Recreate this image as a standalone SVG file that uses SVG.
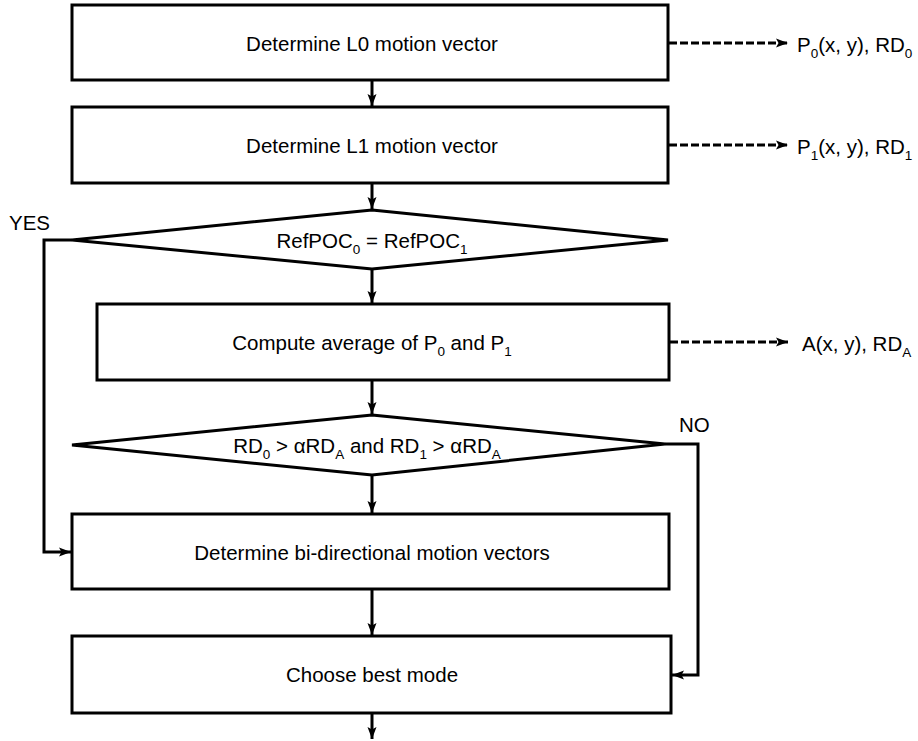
<svg xmlns="http://www.w3.org/2000/svg" width="918" height="741" viewBox="0 0 918 741">
  <defs>
    <marker id="arrow" viewBox="0 0 12 10" refX="12" refY="5" markerWidth="12" markerHeight="10" markerUnits="userSpaceOnUse" orient="auto">
      <path d="M0,0.5 L12,5 L0,9.5 L2.5,5 Z" fill="#000"/>
    </marker>
    <style>
      .box { fill: #fff; stroke: #000; stroke-width: 3; }
      .line { fill: none; stroke: #000; stroke-width: 3; }
      .dash { fill: none; stroke: #000; stroke-width: 3; stroke-dasharray: 8 3; }
      text { font-family: "Liberation Sans", Arial, sans-serif; font-size: 20.5px; fill: #000; }
      .c { text-anchor: middle; }
      .sub { font-size: 13.5px; }
    </style>
  </defs>
  <rect width="918" height="741" fill="#fff"/>

  <g id="connectors">
    <path class="line" d="M372,80 V106" marker-end="url(#arrow)"/>
    <path class="line" d="M372,183 V209" marker-end="url(#arrow)"/>
    <path class="line" d="M372,269 V303" marker-end="url(#arrow)"/>
    <path class="line" d="M372,380 V414" marker-end="url(#arrow)"/>
    <path class="line" d="M372,475 V513" marker-end="url(#arrow)"/>
    <path class="line" d="M372,589 V635" marker-end="url(#arrow)"/>
    <path class="line" d="M372,713 V739" marker-end="url(#arrow)"/>
    <!-- YES branch -->
    <path class="line" d="M72,240 H44 V552 H71" marker-end="url(#arrow)"/>
    <!-- NO branch -->
    <path class="line" d="M665,444 H698 V675 H672" marker-end="url(#arrow)"/>
    <!-- outputs -->
    <path class="dash" d="M669,43 H788" marker-end="url(#arrow)"/>
    <path class="dash" d="M669,145 H788" marker-end="url(#arrow)"/>
    <path class="dash" d="M670,342 H788" marker-end="url(#arrow)"/>
  </g>

  <g id="l0">
    <rect class="box" x="72" y="5" width="596" height="75"/>
    <text class="c" x="372" y="51">Determine L0 motion vector</text>
  </g>
  <g id="l1">
    <rect class="box" x="72" y="107" width="596" height="76"/>
    <text class="c" x="372" y="153">Determine L1 motion vector</text>
  </g>
  <g id="refpoc">
    <polygon class="box" points="372,210 668,240 372,269 72,240"/>
    <text class="c" x="372" y="248">RefPOC<tspan class="sub" dy="6">0</tspan><tspan dy="-6"> = RefPOC</tspan><tspan class="sub" dy="6">1</tspan></text>
  </g>
  <g id="average">
    <rect class="box" x="97" y="304" width="572" height="76"/>
    <text class="c" x="372" y="350">Compute average of P<tspan class="sub" dy="6">0</tspan><tspan dy="-6"> and P</tspan><tspan class="sub" dy="6">1</tspan></text>
  </g>
  <g id="compare">
    <polygon class="box" points="372,415 665,444 372,475 72,445"/>
    <text class="c" x="367" y="453">RD<tspan class="sub" dy="6">0</tspan><tspan dy="-6"> &gt; αRD</tspan><tspan class="sub" dy="6">A</tspan><tspan dy="-6"> and RD</tspan><tspan class="sub" dy="6">1</tspan><tspan dy="-6"> &gt; αRD</tspan><tspan class="sub" dy="6">A</tspan></text>
  </g>
  <g id="bidir">
    <rect class="box" x="72" y="514" width="597" height="75"/>
    <text class="c" x="372" y="560">Determine bi-directional motion vectors</text>
  </g>
  <g id="best">
    <rect class="box" x="72" y="636" width="599" height="77"/>
    <text class="c" x="372" y="682">Choose best mode</text>
  </g>

  <g id="labels">
    <text x="9" y="230">YES</text>
    <text x="679" y="432">NO</text>
    <text x="797" y="52">P<tspan class="sub" dy="6">0</tspan><tspan dy="-6">(x, y), RD</tspan><tspan class="sub" dy="6">0</tspan></text>
    <text x="797" y="154">P<tspan class="sub" dy="6">1</tspan><tspan dy="-6">(x, y), RD</tspan><tspan class="sub" dy="6">1</tspan></text>
    <text x="802" y="351">A(x, y), RD<tspan class="sub" dy="6">A</tspan></text>
  </g>
</svg>
